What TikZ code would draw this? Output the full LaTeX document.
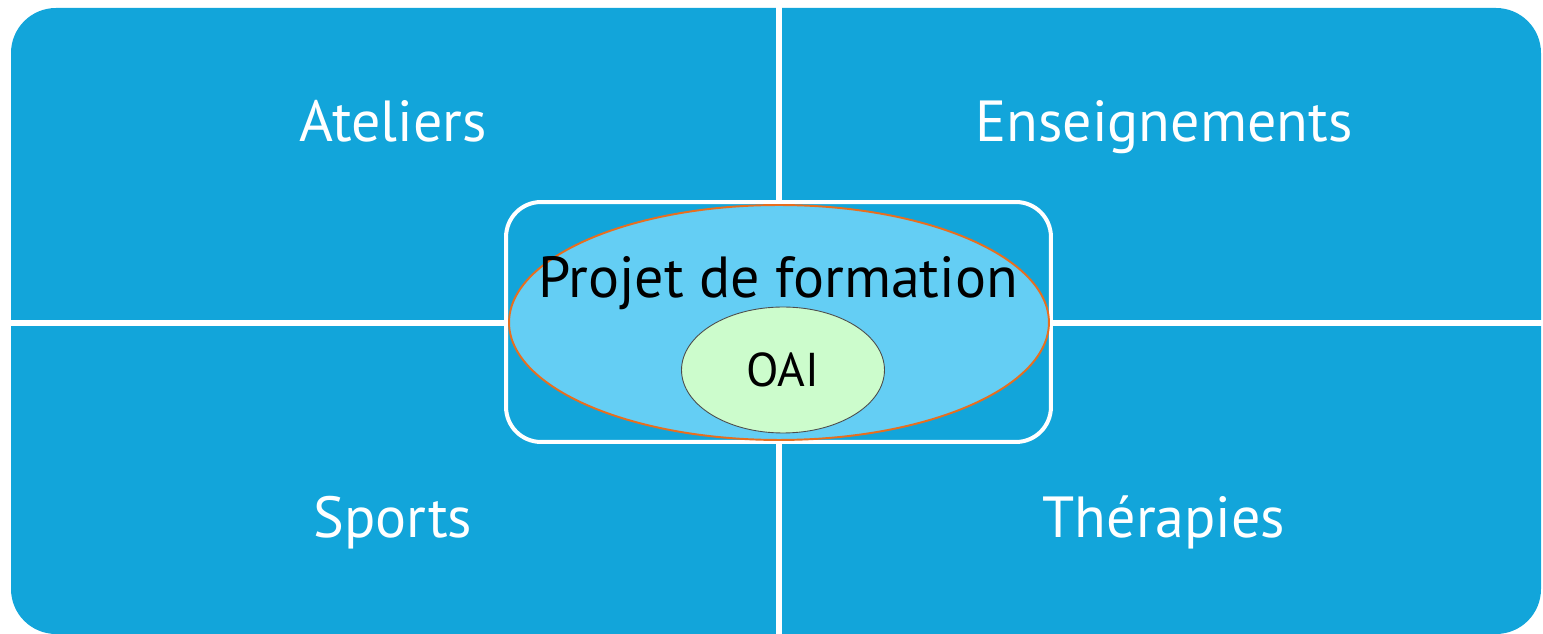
\documentclass[tikz,border=0pt]{standalone}
\usepackage{fontspec}
\setmainfont{PT Sans}
\usetikzlibrary{positioning, calc, shapes.geometric}
\definecolor{PanelBlue}{RGB}{18, 165, 218}
\definecolor{HaloBlue}{RGB}{100, 206, 244}
\definecolor{CoreGreen}{RGB}{204, 252, 204}
\definecolor{RimOrange}{RGB}{232, 110, 30}

\begin{document}
\begin{tikzpicture}[
    x=0.02cm, y=-0.02cm,
    panel/.style={fill=PanelBlue, rounded corners=0.9cm},
    divider/.style={draw=white, line width=0.12cm},
    label/.style={text=white, anchor=base, font=\fontsize{33}{38}\selectfont},
    frame/.style={draw=white, fill=PanelBlue, line width=0.08cm, rounded corners=0.7cm, minimum width=10.9cm, minimum height=4.8cm},
    halo/.style={ellipse, draw=RimOrange, fill=HaloBlue, line width=1.1pt, inner sep=0pt, minimum width=10.8cm, minimum height=4.7cm},
    core/.style={ellipse, draw=black!70, fill=CoreGreen, line width=0.5pt, inner sep=0pt, minimum width=4.06cm, minimum height=2.52cm, font=\fontsize{27}{31}\selectfont}
]

\useasboundingbox (0,0) rectangle (1543,634);

% Panels
\fill[panel] (11,8) rectangle (1541,634);

% Dividers
\coordinate (top) at (779,0);
\coordinate (bottom) at (779,634);
\coordinate (left) at (0,323);
\coordinate (right) at (1543,323);
\draw[divider] (top) -- (bottom);
\draw[divider] (left) -- (right);

% Panel labels
\node[label] (ateliers) at (393,142) {Ateliers};
\node[label] (enseignements) at (1164,142) {Enseignements};
\node[label] (sports) at (393,538) {Sports};
\node[label] (therapies) at (1164,538) {Thérapies};

% Centre
\node[frame] (frame) at (778.5,322) {};
\node[halo] (halo) at (779,322.5) {};
\node[anchor=base, font=\fontsize{33}{38}\selectfont] (projet) at (778,298) {Projet de formation};
\node[core] (oai) at (783,370) {OAI};

\end{tikzpicture}
\end{document}
